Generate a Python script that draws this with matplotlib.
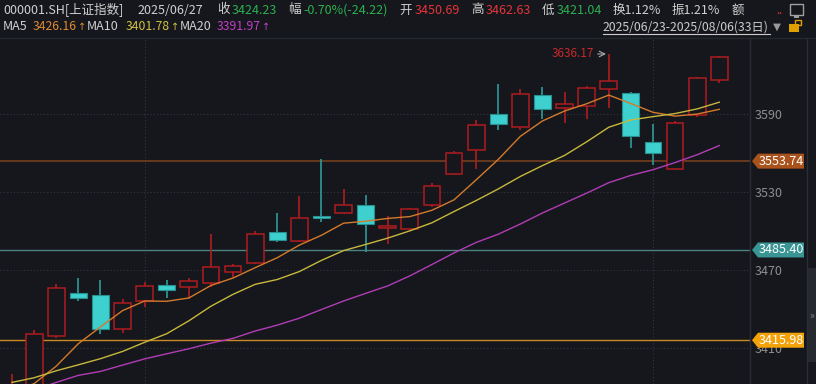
import numpy as np
import pandas as pd
import matplotlib.pyplot as plt
from matplotlib.patches import Polygon, Rectangle
from matplotlib.transforms import blended_transform_factory

plt.rcParams['font.family'] = ['Noto Sans CJK SC', 'DejaVu Sans']

# daily candles 2025/06/23 - 2025/08/06 (33 days)
dates = ['06/23', '06/24', '06/25', '06/26', '06/27', '06/30',
         '07/01', '07/02', '07/03', '07/04', '07/07', '07/08', '07/09', '07/10', '07/11',
         '07/14', '07/15', '07/16', '07/17', '07/18', '07/21', '07/22', '07/23', '07/24',
         '07/25', '07/28', '07/29', '07/30', '07/31', '08/01', '08/04', '08/05', '08/06']
opens = [3360.0, 3380.0, 3419.5, 3452.6, 3450.69, 3424.4, 3446.4, 3458.5, 3456.7, 3460.2,
         3468.5, 3475.6, 3499.0, 3492.1, 3511.4, 3513.8, 3520.0, 3502.6, 3501.3, 3520.0,
         3543.6, 3562.3, 3589.8, 3579.8, 3604.6, 3594.8, 3596.4, 3609.0, 3605.9, 3568.5,
         3547.7, 3589.5, 3616.2]
highs = [3389.8, 3423.8, 3459.1, 3463.6, 3462.63, 3447.7, 3460.5, 3462.0, 3463.8, 3497.7,
         3474.6, 3500.2, 3513.6, 3527.0, 3555.4, 3532.5, 3527.7, 3511.8, 3518.0, 3536.7,
         3561.3, 3585.4, 3613.0, 3609.0, 3610.8, 3607.2, 3611.5, 3636.17, 3607.2, 3582.3,
         3584.5, 3618.6, 3634.9]
lows = [3355.0, 3378.0, 3418.0, 3446.4, 3421.04, 3421.3, 3441.8, 3448.7, 3448.0, 3456.7,
        3464.4, 3474.5, 3491.8, 3491.5, 3507.2, 3513.0, 3484.1, 3490.0, 3500.0, 3518.7,
        3542.8, 3547.7, 3577.7, 3577.7, 3586.4, 3582.8, 3586.4, 3594.4, 3563.6, 3550.5,
        3547.0, 3587.5, 3614.1]
closes = [3381.58, 3420.57, 3455.97, 3448.45, 3424.23, 3444.43, 3457.75, 3454.79, 3461.15,
          3472.32, 3473.13, 3497.48, 3493.05, 3509.68, 3510.18, 3519.65, 3505.00, 3503.78,
          3516.83, 3534.48, 3559.79, 3581.86, 3582.30, 3605.73, 3593.66, 3597.94, 3609.71,
          3615.72, 3573.21, 3559.95, 3583.31, 3617.60, 3633.99]
# closes before the window (05/26 - 06/20), only needed for the moving averages
prior_closes = [3346.84, 3340.69, 3339.93, 3363.45, 3347.49, 3361.98, 3376.20, 3384.10,
                3385.36, 3399.77, 3384.82, 3402.32, 3402.66, 3377.00, 3388.73, 3387.40,
                3388.81, 3362.11, 3359.90]

price_lines = [3553.74, 3485.40, 3415.98]
y_ticks = [3410, 3470, 3530, 3590]

BG = '#15171c'
RED = '#b01c1f'
CYAN = '#3ecfcf'
W, H = 816, 384

allc = pd.Series(prior_closes + closes)
n_prior = len(prior_closes)
ma5 = allc.rolling(5).mean().values[n_prior:]
ma10 = allc.rolling(10).mean().values[n_prior:]
ma20 = allc.rolling(20).mean().values[n_prior:]

fig = plt.figure(figsize=(W / 100, H / 100), dpi=100, facecolor=BG)
ax = fig.add_axes([0, 0, 750 / W, (H - 38) / H], facecolor=BG)
ax.set_xlim(-0.543, 33.39)
ax.set_ylim(3382.3, 3648.46)
for s in ax.spines.values():
    s.set_visible(False)
ax.set_xticks([])
ax.yaxis.tick_right()
ax.set_yticks(y_ticks)
ax.tick_params(axis='y', length=0, pad=3, labelcolor='#8e8e8e', labelsize=9)

x = np.arange(len(closes))
o = np.array(opens)
c = np.array(closes)
up = c >= o

# grid
for t in y_ticks:
    ax.axhline(t, color='#34373e', lw=0.8, ls=(0, (1, 2)), zorder=0)
for i, d in enumerate(dates):
    if d in ('07/01', '08/01'):
        ax.axvline(i, color='#34373e', lw=0.8, ls=(0, (1, 2)), zorder=0)

# horizontal price lines
line_cols = ['#6e3b1d', '#4d8282', '#c88a24']
for v, col in zip(price_lines, line_cols):
    ax.axhline(v, color=col, lw=1.3 if v == price_lines[0] else 1.0, zorder=1)

# wicks
ax.vlines(x[up], np.array(lows)[up], np.array(highs)[up], color=RED, lw=1.2, zorder=2)
ax.vlines(x[~up], np.array(lows)[~up], np.array(highs)[~up], color='#2f9a9a', lw=1.2, zorder=2)
# bodies
ax.bar(x[up], np.maximum(c[up] - o[up], 0.6), bottom=o[up], width=0.76,
       facecolor=BG, edgecolor=RED, lw=1.1, zorder=3)
ax.bar(x[~up], o[~up] - c[~up], bottom=c[~up], width=0.76,
       facecolor=CYAN, edgecolor='#2a8f8f', lw=0.8, zorder=3)

# moving averages
ax.plot(x, ma5, color='#d47a2c', lw=1.0, zorder=4)
ax.plot(x, ma10, color='#c8b83c', lw=1.0, zorder=4)
ax.plot(x, ma20, color='#b23cb6', lw=1.0, zorder=4)

# max marker
hi = int(np.argmax(highs))
ax.annotate('', xy=(hi, highs[hi]), xytext=(-10, 0), textcoords='offset points',
            arrowprops=dict(arrowstyle='->', color='#a8a8a8', lw=0.8), zorder=6)
ax.annotate(f'{highs[hi]:.2f}', xy=(hi, highs[hi]), xytext=(-10.5, 0.5),
            textcoords='offset points', ha='right', va='center', color='#c8282c',
            fontsize=8.5, zorder=6)

# price tags on the right axis
tr = blended_transform_factory(fig.transFigure, ax.transData)
tag_cols = ['#a9521c', '#399494', '#f3a20a']
hh = 7.5 / 1.3
for v, col in zip(price_lines, tag_cols):
    pts = [(752 / W, v), (758 / W, v + hh), (804 / W, v + hh), (804 / W, v - hh), (758 / W, v - hh)]
    ax.add_patch(Polygon(pts, closed=True, transform=tr, facecolor=col, edgecolor='none',
                         clip_on=False, zorder=8))
    ax.text(781 / W, v, f'{v:.2f}', transform=tr, ha='center', va='center', color='white',
            fontsize=9, clip_on=False, zorder=9)

# frame lines
fig.add_artist(plt.Line2D([750 / W, 750 / W], [0, 1 - 38 / H], color='#2a2d33', lw=1))
fig.add_artist(plt.Line2D([807 / W, 807 / W], [0, 1 - 38 / H], color='#2a2d33', lw=1))
fig.add_artist(plt.Line2D([0, 1], [1 - 37.5 / H, 1 - 37.5 / H], color='#24272d', lw=1))
fig.add_artist(Rectangle((808 / W, 1 - 362 / H), 8 / W, 94 / H, transform=fig.transFigure,
                         facecolor='#262930', edgecolor='none'))
fig.text(812 / W, 1 - 316 / H, '»', color='#8a8a8a', fontsize=7, ha='center', va='center')


def ptext(px, py, s, color='#d0d0d0', size=9, family=None):
    kw = {} if family is None else {'family': family}
    return fig.text(px / W, 1 - py / H, s, color=color, ha='left', va='center',
                    fontsize=size, **kw)


GREEN = '#2bb04f'
HRED = '#e3353a'
ptext(3, 10, '000001.SH[上证指数]')
ptext(137, 10, '2025/06/27')
ptext(217, 10, '收')
ptext(232, 10, '3424.23', GREEN)
ptext(288, 10, '幅')
ptext(303, 10, '-0.70%(-24.22)', GREEN)
ptext(399, 10, '开')
ptext(415, 10, '3450.69', HRED)
ptext(471, 10, '高')
ptext(486, 10, '3462.63', HRED)
ptext(542, 10, '低')
ptext(557, 10, '3421.04', GREEN)
ptext(613, 10, '换1.12%')
ptext(672, 10, '振1.21%')
ptext(732, 10, '额')
ptext(776, 11, '..', HRED, 8)

ma_labels = [('MA5', 3, 33, '3426.16', '#e08a30'),
             ('MA10', 87, 126, '3401.78', '#d2c340'),
             ('MA20', 180, 217, '3391.97', '#c23fc8')]
for name, nx, vx, val, col in ma_labels:
    ptext(nx, 27, name)
    ptext(vx, 27, val, col, 8.8)
    ptext(vx + 45, 27, '↑', col, 7, 'DejaVu Sans')

ptext(603, 27, '2025/06/23-2025/08/06(33日)', '#cccccc', 8.8)
fig.add_artist(plt.Line2D([603 / W, 770 / W], [1 - 34 / H, 1 - 34 / H], color='#cccccc', lw=0.8))
ptext(773, 27, '▼', '#9a9a9a', 7.5, 'DejaVu Sans')

# small icons top right
fig.add_artist(Rectangle((790 / W, 1 - 15 / H), 13 / W, 11 / H, transform=fig.transFigure,
                         facecolor='none', edgecolor='#a0a0a0', lw=1))
fig.add_artist(Rectangle((794 / W, 1 - 18 / H), 5 / W, 2 / H, transform=fig.transFigure,
                         facecolor='#a0a0a0', edgecolor='none'))
fig.add_artist(Rectangle((789 / W, 1 - 32 / H), 10 / W, 8 / H, transform=fig.transFigure,
                         facecolor='#e0a000', edgecolor='none'))
fig.add_artist(Rectangle((795 / W, 1 - 25 / H), 6 / W, 5 / H, transform=fig.transFigure,
                         facecolor='none', edgecolor='#e0a000', lw=1))

fig.savefig('out.png', dpi=100, facecolor=BG)
